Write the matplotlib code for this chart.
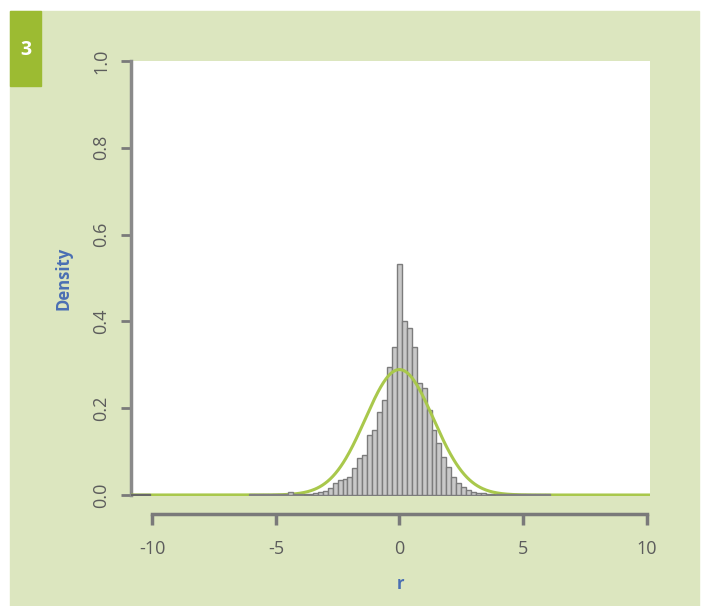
import numpy as np
import matplotlib
matplotlib.use("Agg")
import matplotlib.pyplot as plt
from matplotlib.patches import Rectangle

# --- Daten ---
bin_width = 0.2
bin_centers = np.round(np.arange(-6.0, 6.01, bin_width), 1)  # -6.0 ... 6.0
density = [
    # linker Ausläufer -6.0 ... -4.0
    0.003, 0.003, 0.003, 0.003, 0.003, 0.003, 0.003, 0.003, 0.006, 0.003, 0.003,
    # -3.8 ... -0.2
    0.003, 0.003, 0.004, 0.006, 0.010, 0.016, 0.028, 0.035, 0.036, 0.042,
    0.062, 0.085, 0.092, 0.138, 0.150, 0.192, 0.219, 0.296, 0.342,
    # 0.0
    0.532,
    # 0.2 ... 3.8
    0.400, 0.385, 0.342, 0.258, 0.246, 0.196, 0.150, 0.120, 0.088, 0.065,
    0.042, 0.027, 0.018, 0.012, 0.008, 0.005, 0.004, 0.003, 0.003,
    # rechter Ausläufer 4.0 ... 6.0
    0.003, 0.003, 0.003, 0.003, 0.003, 0.003, 0.003, 0.003, 0.003, 0.003, 0.003,
]
# einzelner Ausreißer-Balken ganz links
outlier_center = -10.5
outlier_width = 0.8
outlier_density = 0.003

# angepasste Normalverteilung
fit_mean = 0.0
fit_sd = 1.38

x_ticks = [-10, -5, 0, 5, 10]
y_ticks = [0.0, 0.2, 0.4, 0.6, 0.8, 1.0]

panel_green = "#dce6bf"
badge_green = "#9cbb32"
curve_green = "#a9c84c"
tick_grey = "#5c5c5c"
label_blue = "#4a6fb3"

fig = plt.figure(figsize=(7.02, 6.06), dpi=100, facecolor="white")

# grüner Hintergrund + Nummer (eigene Achse ganz hinten)
bg = fig.add_axes([0, 0, 1, 1], zorder=-1)
bg.set_xlim(0, 702)
bg.set_ylim(606, 0)
bg.axis("off")
bg.add_patch(Rectangle((10, 11), 689, 595, color=panel_green))
bg.add_patch(Rectangle((10, 11), 31, 75, color=badge_green))
bg.text(26, 50, "3", color="white", fontsize=14, fontweight="bold",
        ha="center", va="center", family="Open Sans")

ax = fig.add_axes([131 / 702, 1 - 496 / 606, 519 / 702, 435 / 606], zorder=1)
ax.set_facecolor("white")

centers = np.array(bin_centers)
dens = np.array(density)
core = np.abs(centers) < 4.0
# Kern unter der Kurve, flache Ausläufer darüber (wie im Original sichtbar)
ax.bar(centers[core], dens[core], width=bin_width, color="#c8c8c8",
       edgecolor="#7c7c7c", linewidth=1.0, zorder=2)
ax.bar(centers[~core], dens[~core], width=bin_width, color="#c8c8c8",
       edgecolor="#808080", linewidth=1.0, zorder=4)
ax.bar([outlier_center], [outlier_density], width=outlier_width, color="#c8c8c8",
       edgecolor="#666666", linewidth=1.0, zorder=4)

xs = np.linspace(-10.9, 10.2, 600)
ys = np.exp(-0.5 * ((xs - fit_mean) / fit_sd) ** 2) / (fit_sd * np.sqrt(2 * np.pi))
ax.plot(xs, ys, color=curve_green, linewidth=2.2, zorder=3)

ax.set_xlim(-10.86, 10.14)
ax.set_ylim(-0.0023, 1.0)

for s in ["top", "right"]:
    ax.spines[s].set_visible(False)
ax.spines["left"].set_bounds(0, 1)
ax.spines["left"].set_color("#8a8a8a")
ax.spines["left"].set_linewidth(2.5)
ax.spines["bottom"].set_position(("outward", 13))
ax.spines["bottom"].set_bounds(-10, 10)
ax.spines["bottom"].set_color("#7a7a7a")
ax.spines["bottom"].set_linewidth(2.5)

ax.set_xticks(x_ticks)
ax.set_xticklabels([str(t) for t in x_ticks])
ax.set_yticks(y_ticks)
ax.set_yticklabels([f"{t:.1f}" for t in y_ticks])
ax.tick_params(axis="x", length=8, width=2.5, color="#7a7a7a", pad=11,
               labelsize=13, labelcolor=tick_grey)
ax.tick_params(axis="y", length=7, width=2, color="#7a7a7a", pad=8,
               labelsize=13, labelcolor=tick_grey, labelrotation=90)
for lab in ax.get_yticklabels():
    lab.set_va("center")
for lab in ax.get_xticklabels() + ax.get_yticklabels():
    lab.set_family("Open Sans")

fig.text(63 / 702, 1 - 278 / 606, "Density", rotation=90, color=label_blue,
         fontsize=12, fontweight="bold", ha="center", va="center", family="Open Sans")
fig.text(400 / 702, 1 - 584 / 606, "r", color=label_blue,
         fontsize=12, fontweight="bold", ha="center", va="center", family="Open Sans")

fig.savefig("out.png", dpi=100, facecolor=fig.get_facecolor())
